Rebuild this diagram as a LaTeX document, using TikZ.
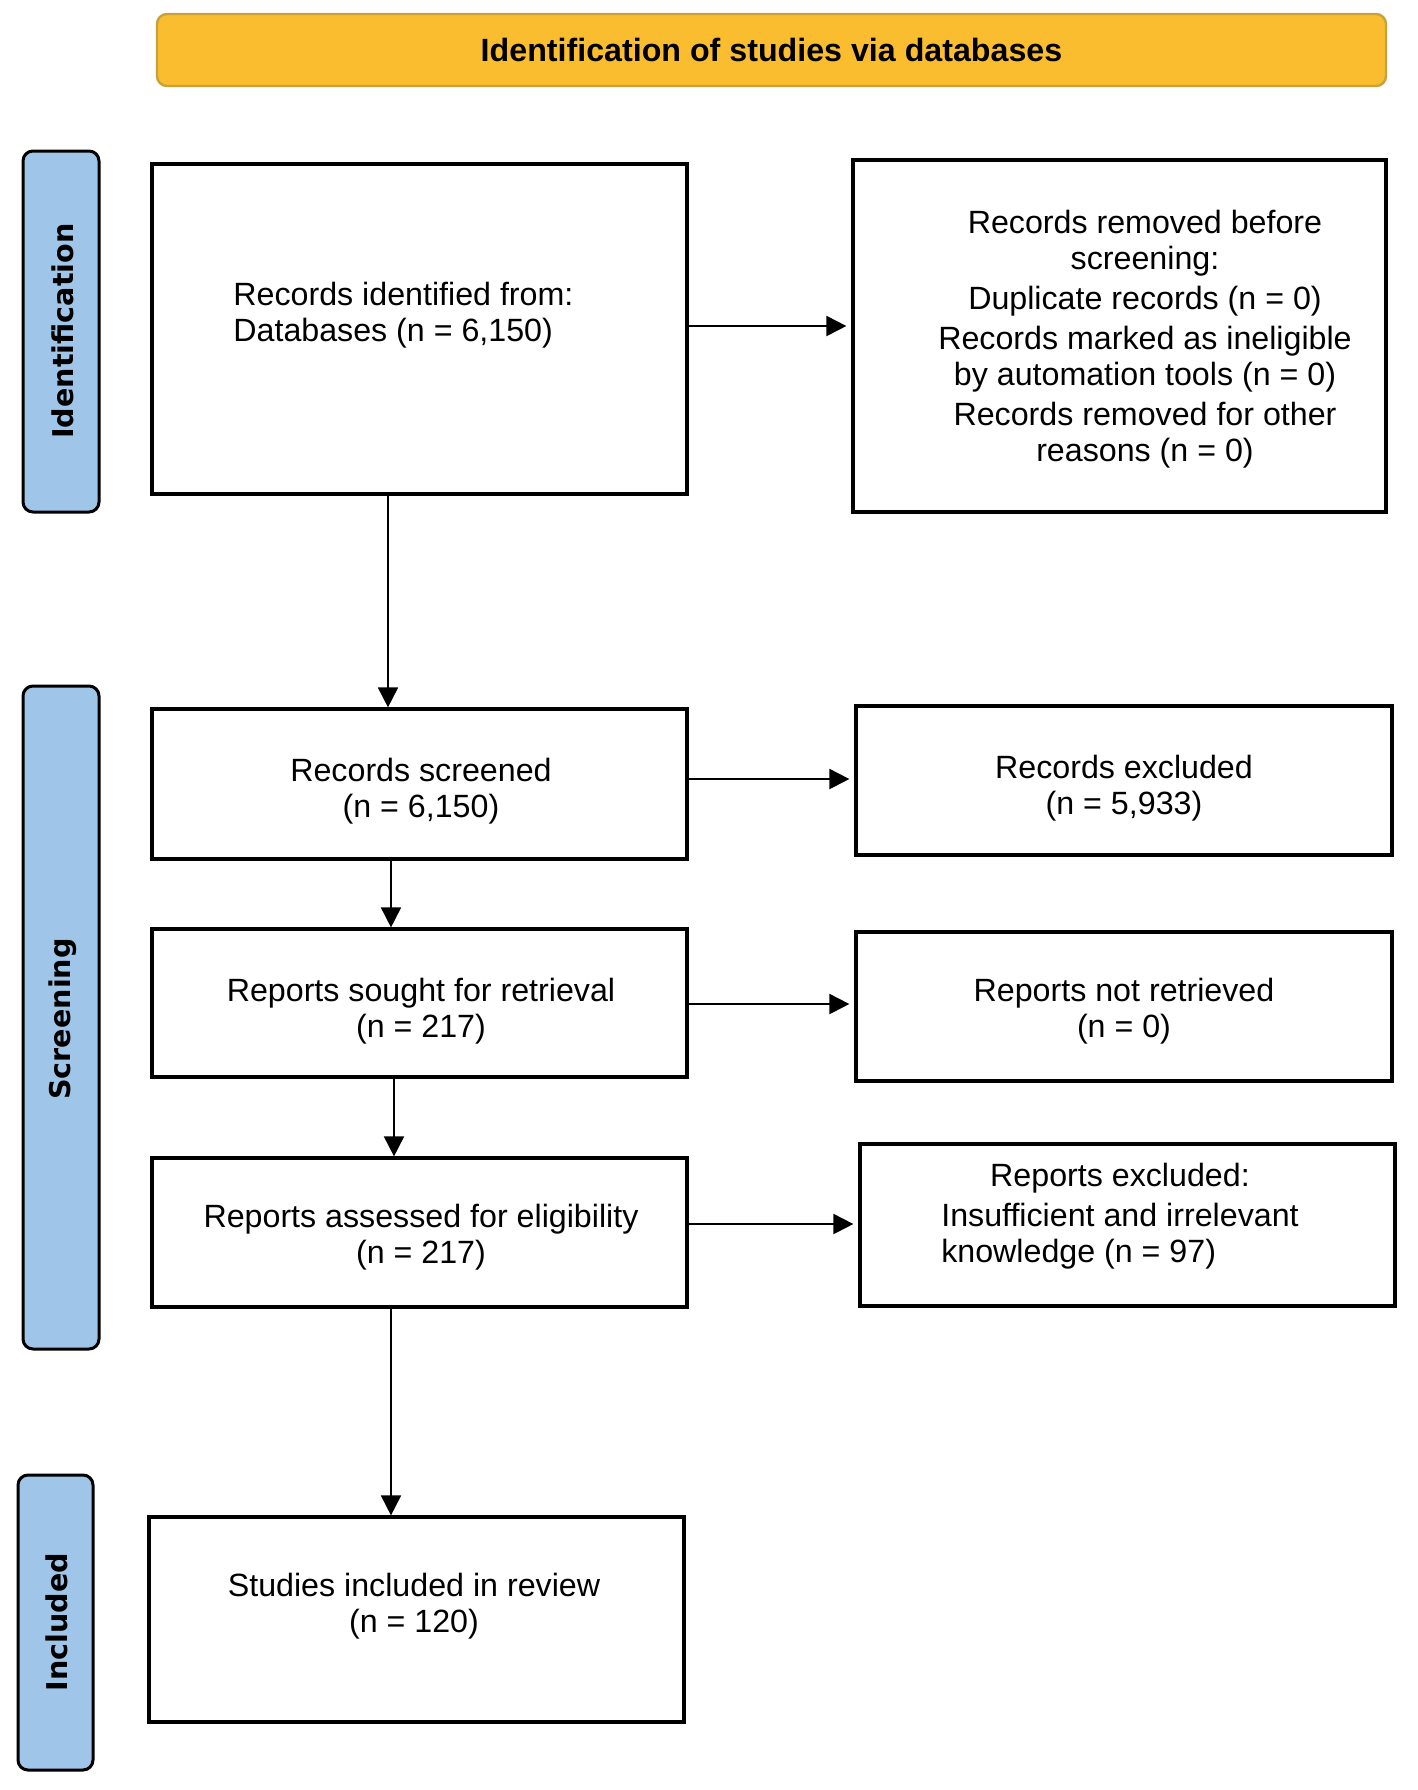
\documentclass[tikz,border=0pt]{standalone}
\usepackage{fontspec}
\setmainfont{Liberation Sans}
\newfontfamily\lblfont{DejaVu Sans}
\usetikzlibrary{arrows.meta}
\definecolor{hdrfill}{HTML}{FBBD30}
\definecolor{hdrdraw}{HTML}{C9A139}
\definecolor{sidefill}{HTML}{9FC5E8}
\begin{document}
\begin{tikzpicture}[x=0.5pt,y=-0.5pt,
 box/.style={draw=black, line width=1.6pt, fill=white, inner sep=0},
 hdr/.style={draw=hdrdraw, line width=1.2pt, fill=hdrfill, rounded corners=5pt, inner sep=0},
 side/.style={draw=black, line width=1.5pt, fill=sidefill, rounded corners=5pt, inner sep=0},
 txt/.style={inner sep=0, font=\fontsize{16.1}{18}\selectfont, align=center},
 sidetxt/.style={inner sep=0, font=\lblfont\bfseries\fontsize{14.3}{16}\selectfont, rotate=90},
 varr/.style={line width=0.9pt, -{Triangle[length=10pt,width=10pt]}},
 harr/.style={line width=1pt, -{Triangle[length=10pt,width=10pt]}, shorten >=2.5pt}]

\useasboundingbox (0,0) rectangle (1418,1790);
\fill[white] (0,0) rectangle (1418,1790);

% header
\node[hdr, minimum width=614.5pt, minimum height=36pt, font=\fontsize{16.1}{18}\selectfont\bfseries] (hdr) at (771.5,50) {Identification of studies via databases};

% side labels
\node[side, minimum width=38pt, minimum height=180.5pt] (sid) at (61,331.5) {};
\node[sidetxt] (sidt) at (63,331) {Identification};
\node[side, minimum width=38pt, minimum height=331.5pt] (sscr) at (61,1017.5) {};
\node[sidetxt] (sscrt) at (63,1019) {Screening};
\node[side, minimum width=37.5pt, minimum height=147.5pt] (sinc) at (55.5,1622.5) {};
\node[sidetxt] (sinct) at (57,1622) {Included};

% main boxes
\node[box, minimum width=267.5pt, minimum height=165pt] (b1) at (419.5,329) {};
\node[box, minimum width=266.5pt, minimum height=176pt] (r1) at (1119.5,336) {};
\node[box, minimum width=267.5pt, minimum height=75pt] (b2) at (419.5,784) {};
\node[box, minimum width=268pt, minimum height=74.5pt] (r2) at (1124,780.5) {};
\node[box, minimum width=267.5pt, minimum height=74pt] (b3) at (419.5,1003) {};
\node[box, minimum width=268pt, minimum height=74.5pt] (r3) at (1124,1006.5) {};
\node[box, minimum width=267.5pt, minimum height=74.5pt] (b4) at (419.5,1232.5) {};
\node[box, minimum width=267.5pt, minimum height=81pt] (r4) at (1127.5,1225) {};
\node[box, minimum width=267.5pt, minimum height=102.5pt] (b5) at (416.5,1619.5) {};

% texts
\node[txt, align=left, anchor=west] (b1t) at (233,315) {Records identified from:\\ Databases (n = 6,150)};
\node[txt] (r1t) at (1145,339) {Records removed before\\ screening:\\[2pt] Duplicate records (n = 0)\\[2pt] Records marked as ineligible\\ by automation tools (n = 0)\\[2pt] Records removed for other\\ reasons (n = 0)};
\node[txt] (b2t) at (421,791) {Records screened\\ (n = 6,150)};
\node[txt] (r2t) at (1124,788) {Records excluded\\ (n = 5,933)};
\node[txt] (b3t) at (421,1011) {Reports sought for retrieval\\ (n = 217)};
\node[txt] (r3t) at (1124,1011) {Reports not retrieved\\ (n = 0)};
\node[txt] (b4t) at (421,1237) {Reports assessed for eligibility\\ (n = 217)};
\node[txt] (r4t) at (1120,1217) {\begin{tabular}{@{}l@{}}\multicolumn{1}{@{}c@{}}{Reports excluded:}\\[2pt] Insufficient and irrelevant\\ knowledge (n = 97)\end{tabular}};
\node[txt] (b5t) at (414,1606) {Studies included in review\\ (n = 120)};

% arrow positions
\coordinate (v1) at (388,0);
\coordinate (v2) at (391,0);
\coordinate (v3) at (394,0);
\coordinate (v4) at (391,0);
\coordinate (h1) at (0,326);
\coordinate (h2) at (0,779);
\coordinate (h3) at (0,1004);
\coordinate (h4) at (0,1224);

\draw[varr] (v1 |- b1.south) -- (v1 |- b2.north);
\draw[varr] (v2 |- b2.south) -- (v2 |- b3.north);
\draw[varr] (v3 |- b3.south) -- (v3 |- b4.north);
\draw[varr] (v4 |- b4.south) -- (v4 |- b5.north);

\draw[harr] (b1.east |- h1) -- (r1.west |- h1);
\draw[harr] (b2.east |- h2) -- (r2.west |- h2);
\draw[harr] (b3.east |- h3) -- (r3.west |- h3);
\draw[harr] (b4.east |- h4) -- (r4.west |- h4);
\end{tikzpicture}
\end{document}
